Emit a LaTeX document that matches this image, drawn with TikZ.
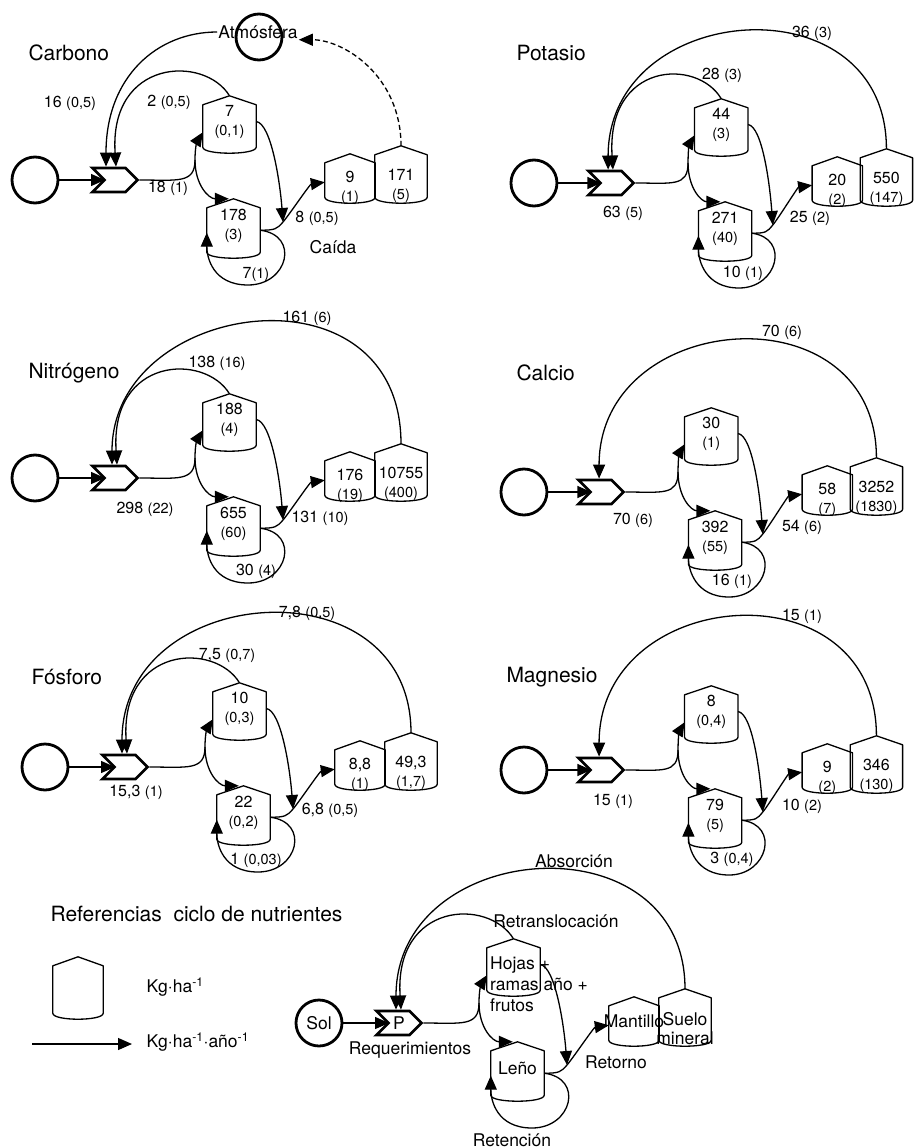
\documentclass[tikz,border=0pt]{standalone}
\usepackage{fontspec}
\setmainfont{TeX Gyre Heros}
\usetikzlibrary{arrows.meta,shapes.symbols}

\newcommand{\chico}[1]{{\fontsize{14.5}{17}\selectfont(#1)}}
\newcommand{\leyfont}{\fontsize{17.5}{21}\selectfont}

\tikzset{
  every node/.style={font=\fontsize{16}{19}\selectfont},
  linea/.style={line width=1.3pt},
  fuente/.style={circle, draw, line width=2.8pt, minimum size=46pt, inner sep=0pt},
  req/.style={signal, signal from=west, signal to=east, draw, line width=2.8pt,
    minimum width=45pt, minimum height=24pt, inner sep=0pt},
  tank/.style={minimum width=53pt, minimum height=51pt, inner sep=0pt,
    append after command={\pgfextra{\let\tqn\tikzlastnode
      \draw[linea, line join=round] (\tqn.south west) -- ([yshift=-9pt]\tqn.north west)
        -- (\tqn.north) -- ([yshift=-9pt]\tqn.north east) -- (\tqn.south east)
        .. controls ([yshift=-8pt]\tqn.south east) and ([yshift=-8pt]\tqn.south west)
        .. (\tqn.south west) -- cycle;}}},
  val/.style={align=center, inner sep=0pt},
  titulo/.style={anchor=west, font=\fontsize{21}{25}\selectfont},
  palabra/.style={font=\leyfont},
}

% fuente, requerimientos, cuatro compartimentos y flujos internos
\newcommand{\ciclo}[6]{%
  \node[fuente] (sol) at (-80,0) {#1};
  \node[req] (req) at (0,0) {#2};
  \node[tank] (hoja) at (114.5,-58.5) {};
  \node[tank, minimum height=53pt] (leno) at (118.5,45.5) {};
  \node[tank, minimum width=50pt, minimum height=43pt] (mant) at (235,-4.5) {};
  \node[tank, minimum width=52pt, minimum height=51pt] (suelo) at (286,-8.5) {};
  \node[val] (hojaV) at (hoja) {#3};
  \node[val] (lenoV) at (leno) {#4};
  \node[val] (mantV) at ([yshift=-12pt]mant.center) {#5};
  \node[val] (sueloV) at ([yshift=-14pt]suelo.center) {#6};
  \coordinate (split) at (80,-20);
  \coordinate (caida) at (168,42);
  \coordinate (lazo) at (133,105);
  \draw[linea,->] (sol) -- ([xshift=-10pt]req.center);
  \draw[linea] (req.east) .. controls +(38,0) and +(0,24) .. (split);
  \draw[linea,->] (split) .. controls +(0,-15) and +(-5,8) .. (hoja.202);
  \draw[linea,->] (split) .. controls +(0,25) and +(-20,0) .. (leno.100);
  \draw[linea,->] (hoja.east) .. controls +(15,2) and +(-3,-40) .. (caida);
  \draw[linea,->] (leno.350) .. controls +(15,0) and +(-6,7) .. (caida)
    .. controls +(6,-7) and +(-15,2) .. (mant.195);
  \draw[linea,->] (leno.350) .. controls +(40,5) and +(40,0) .. (lazo)
    .. controls +(-35,0) and +(0,25) .. (leno.195);
}

\begin{document}
\begin{tikzpicture}[x=1pt,y=-1pt,>={Triangle[length=14pt,width=12pt]}]
\useasboundingbox (0,0) rectangle (917,1148);
% Carbono
\begin{scope}[shift={(115,180)}]
\ciclo{}{}{7\\\chico{0,1}}{178\\\chico{3}}{9\\\chico{1}}{171\\\chico{5}}
\node[fuente] (atmc) at (144,-143) {};
\node[palabra, inner sep=1pt] (atm) at (143,-148) {Atmósfera};
\draw[linea,->] (hoja.north) .. controls +(-25,-41) and +(-7,-108) .. ([xshift=1pt]req.north);
\draw[linea,->] (atm.west) .. controls +(-60,0) and +(0,-90) .. ([xshift=-9pt]req.north);
\draw[linea,->,dash pattern=on 5pt off 3pt] (suelo.north) .. controls +(0,-70) and +(45,0) .. (atm.south east);
\node[titulo] (tit) at (-90,-127) {Carbono};
\node (fatm) at (-45,-77) {16 \chico{0,5}};
\node (fret) at (54,-78) {2 \chico{0,5}};
\node (freq) at (53,8) {18 \chico{1}};
\node (fcai) at (202,38) {8 \chico{0,5}};
\node[palabra] (ncai) at (218,67) {Caída};
\node (fretn) at (141,94) {7\chico{1}};
\end{scope}
% Potasio
\begin{scope}[shift={(611,183)},xscale=0.963]
\ciclo{}{}{44\\\chico{3}}{271\\\chico{40}}{20\\\chico{2}}{550\\\chico{147}}
\draw[linea,->] (hoja.north) .. controls +(-25,-41) and +(-7,-108) .. ([xshift=2pt]req.north);
\draw[linea,->] (suelo.north) .. controls +(0,-170) and +(0,-170) .. ([xshift=-3pt]req.north);
\node[titulo] (tit) at (-101.8,-130) {Potasio};
\node (fabs) at (208.7,-150) {36 \chico{3}};
\node (fret) at (115.3,-108) {28 \chico{3}};
\node (freq) at (12.5,30) {63 \chico{5}};
\node (fcai) at (206.6,35) {25 \chico{2}};
\node (fretn) at (137,90) {10 \chico{1}};
\end{scope}
% Nitrogeno
\begin{scope}[shift={(115,478)}]
\ciclo{}{}{188\\\chico{4}}{655\\\chico{60}}{176\\\chico{19}}{10755\\\chico{400}}
\draw[linea,->] (hoja.north) .. controls +(-25,-41) and +(-7,-108) .. ([xshift=2pt]req.north);
\draw[linea,->] (suelo.north) .. controls +(0,-185) and +(0,-165) .. ([xshift=-3pt]req.north);
\node[titulo] (tit) at (-90,-105) {Nitrógeno};
\node (fabs) at (192,-160) {161 \chico{6}};
\node (fret) at (102,-115) {138 \chico{16}};
\node (freq) at (30,31) {298 \chico{22}};
\node (fcai) at (205,40) {131 \chico{10}};
\node (fretn) at (141,93) {30 \chico{4}};
\end{scope}
% Calcio
\begin{scope}[shift={(601,492)},xscale=0.963]
\ciclo{}{}{30\\\chico{1}}{392\\\chico{55}}{58\\\chico{7}}{3252\\\chico{1830}}
\draw[linea,->] (suelo.north) .. controls +(0,-170) and +(0,-170) .. ([xshift=-2pt]req.north);
\node[titulo] (tit) at (-91.4,-119) {Calcio};
\node (fabs) at (188,-160) {70 \chico{6}};
\node (freq) at (33.2,28) {70 \chico{6}};
\node (fcai) at (208.7,35) {54 \chico{6}};
\node (fretn) at (136,89) {16 \chico{1}};
\end{scope}
% Fosforo
\begin{scope}[shift={(125,767)}]
\ciclo{}{}{10\\\chico{0,3}}{22\\\chico{0,2}}{8,8\\\chico{1}}{49,3\\\chico{1,7}}
\draw[linea,->] (hoja.north) .. controls +(-25,-41) and +(-7,-108) .. ([xshift=2pt]req.north);
\draw[linea,->] (suelo.north) .. controls +(0,-172) and +(0,-172) .. ([xshift=-3pt]req.north);
\node[titulo] (tit) at (-97,-90) {Fósforo};
\node (fabs) at (182,-154) {7,8 \chico{0,5}};
\node (fret) at (102,-112) {7,5 \chico{0,7}};
\node (freq) at (11,25) {15,3 \chico{1}};
\node (fcai) at (205,43) {6,8 \chico{0,5}};
\node (fretn) at (131,93) {1 \chico{0,03}};
\end{scope}
% Magnesio
\begin{scope}[shift={(601,770)},xscale=0.963]
\ciclo{}{}{8\\\chico{0,4}}{79\\\chico{5}}{9\\\chico{2}}{346\\\chico{130}}
\draw[linea,->] (suelo.north) .. controls +(0,-172) and +(0,-172) .. ([xshift=-2pt]req.north);
\node[titulo] (tit) at (-101.8,-93) {Magnesio};
\node (fabs) at (208.7,-154) {15 \chico{1}};
\node (freq) at (12.5,31) {15 \chico{1}};
\node (fcai) at (208.7,36) {10 \chico{2}};
\node (fretn) at (136,89) {3 \chico{0,4}};
\end{scope}
% Referencias
\node[titulo] (ref) at (47,914) {Referencias\ \ ciclo de nutrientes};
\node[tank, minimum width=50pt, minimum height=56pt] (refTank) at (78,985) {};
\node[palabra, anchor=west] (unS) at (143,987) {Kg·ha\textsuperscript{-1}};
\coordinate (flA) at (32,1044);
\coordinate (flB) at (132,1044);
\draw[linea,->] (flA) -- (flB);
\node[palabra, anchor=west] (unF) at (143,1042) {Kg·ha\textsuperscript{-1}·año\textsuperscript{-1}};
\begin{scope}[shift={(399,1023)}]
\ciclo{\leyfont Sol}{\leyfont P}{}{\leyfont Leño}{\leyfont Mantillo\\\mbox{}}{\leyfont Suelo\\\leyfont mineral}
\node[val, align=left, anchor=west, font=\leyfont] (hojaT) at (91,-39) {Hojas +\\ramas año +\\frutos};
\draw[linea,->] (hoja.north) .. controls +(-25,-41) and +(-7,-108) .. ([xshift=2pt]req.north);
\draw[linea,->] (suelo.north) .. controls +(0,-172) and +(0,-172) .. ([xshift=-3pt]req.north);
\node[palabra] (absor) at (175,-162) {Absorción};
\node[palabra] (retr) at (157,-102) {Retranslocación};
\node[palabra] (requer) at (11,27) {Requerimientos};
\node[palabra] (retorno) at (217,39) {Retorno};
\node[palabra] (retenc) at (113,117) {Retención};
\end{scope}
\end{tikzpicture}
\end{document}
